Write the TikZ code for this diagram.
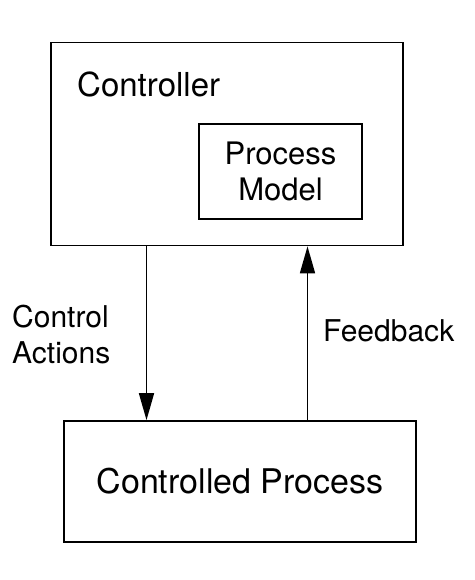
\documentclass[tikz,border=0pt]{standalone}
\usepackage{fontspec}
\setmainfont{TeX Gyre Heros}
\usetikzlibrary{arrows.meta}

\tikzset{
  box/.style={draw,line width=1.7pt,inner sep=0pt},
  flow/.style={line width=1.7pt,-{Triangle[length=27pt,width=15pt]}},
  lbl/.style={inner sep=0pt,anchor=base west,align=left,font=\fontsize{30}{36}\selectfont},
}

\begin{document}
\begin{tikzpicture}[x=1pt,y=1pt]
\useasboundingbox (0,0) rectangle (474,-580);
\node[box,minimum width=352pt,minimum height=203pt] (ctrl) at (227,-144) {};
\node[lbl,font=\fontsize{33}{36}\selectfont] (ctrltxt) at (77,-97) {Controller};
\node[box,minimum width=163pt,minimum height=95pt,align=center,font=\fontsize{31}{36}\selectfont] (model) at (280.5,-171.5) {Process\\Model};
\node[box,minimum width=352pt,minimum height=121pt,font=\fontsize{34}{36}\selectfont] (proc) at (240,-481.5) {Controlled Process};
% control and feedback
\draw[flow] ([xshift=-80.5pt]ctrl.south) -- ([xshift=-80.5pt]ctrl.south |- proc.north);
\draw[flow] ([xshift=80.5pt]ctrl.south |- proc.north) -- ([xshift=80.5pt]ctrl.south);
\node[lbl] (act) at (12,-363) {Control\\Actions};
\node[lbl] (fb) at (323,-341) {Feedback};
\end{tikzpicture}
\end{document}
